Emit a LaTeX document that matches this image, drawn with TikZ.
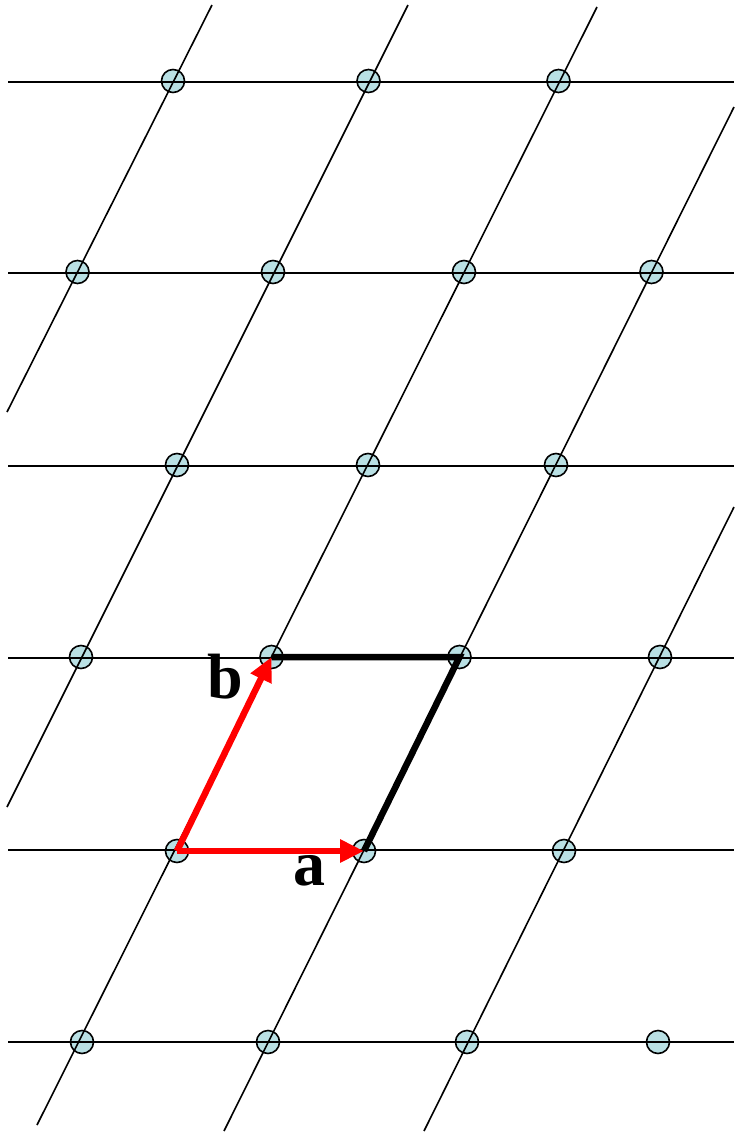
\documentclass[tikz,border=0pt]{standalone}
\usepackage{fontspec}
\setmainfont{Liberation Serif}
\usetikzlibrary{arrows.meta}
\definecolor{dotfill}{RGB}{185,224,228}
\begin{document}
\begin{tikzpicture}[x=1pt,y=-1pt,
  dot/.style={circle,draw=black,line width=1.6pt,fill=dotfill,minimum size=23pt,inner sep=0pt},
  gridline/.style={line width=1.6pt,black},
  vec/.style={red,line width=6.5pt,-{Triangle[length=24pt,width=22pt]}},
  cell/.style={black,line width=6.5pt,line join=miter},
  lbl/.style={font=\fontsize{64}{64}\selectfont\bfseries,anchor=base,inner sep=0pt}]
\useasboundingbox (0,0) rectangle (734,1133);
% lattice points
\node[dot] (p11) at (173,81) {};
\node[dot] (p12) at (368.5,81) {};
\node[dot] (p13) at (558.5,81) {};
\node[dot] (p21) at (77.5,272) {};
\node[dot] (p22) at (273,272) {};
\node[dot] (p23) at (464,272) {};
\node[dot] (p24) at (651.5,272) {};
\node[dot] (p31) at (177,465) {};
\node[dot] (p32) at (368,465) {};
\node[dot] (p33) at (556,465) {};
\node[dot] (p41) at (81,657) {};
\node[dot] (p42) at (271.5,657) {};
\node[dot] (p43) at (459.5,657) {};
\node[dot] (p44) at (660,657) {};
\node[dot] (p51) at (177,851) {};
\node[dot] (p52) at (364,851) {};
\node[dot] (p53) at (564,851) {};
\node[dot] (p61) at (82,1042) {};
\node[dot] (p62) at (268,1042) {};
\node[dot] (p63) at (467,1042) {};
\node[dot] (p64) at (658,1042) {};
% horizontal lattice lines
\foreach \yy in {82,273,466,658,850,1042}
  \draw[gridline] (8,\yy) -- (734,\yy);
% slanted lattice lines
\draw[gridline] (212,5) -- (7,412);
\draw[gridline] (408,5) -- (7,807);
\draw[gridline] (597,7) -- (37,1125);
\draw[gridline] (734,107) -- (224,1131);
\draw[gridline] (734,507) -- (424,1131);
% unit cell
\draw[cell] (p42.center) -- (p43.center) -- (p52.center);
% basis vectors
\draw[vec] (p51.center) -- (p52.center);
\draw[vec] (p51.center) -- (p42.center);
% labels
\node[lbl] (la) at (309,885) {a};
\node[lbl] (lb) at (225,698) {b};
\end{tikzpicture}
\end{document}
